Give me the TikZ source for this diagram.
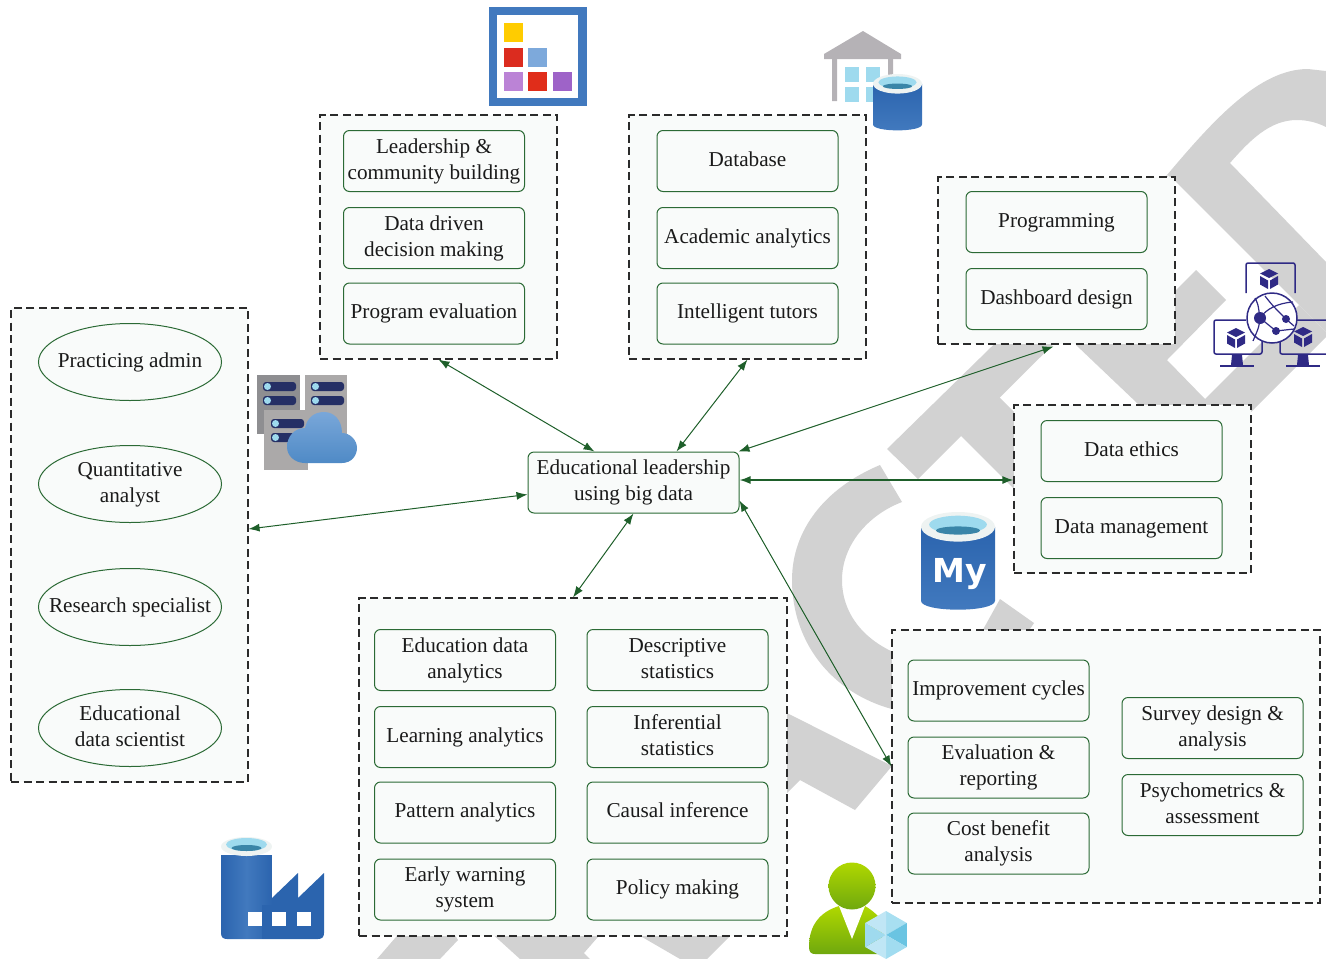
\documentclass[tikz,border=0pt]{standalone}
\usepackage{fontspec}
\setmainfont{Liberation Serif}
\newfontfamily\iconfont{DejaVu Sans}
\usetikzlibrary{arrows.meta,shapes.geometric}

\definecolor{wmgray}{HTML}{D2D2D2}
\definecolor{panelfill}{HTML}{F9FBFA}
\definecolor{panelline}{HTML}{2B2B2B}
\definecolor{boxgreen}{HTML}{2B6A35}
\definecolor{arrowgreen}{HTML}{1E5F2A}
\definecolor{textblack}{HTML}{1A1A1A}
\definecolor{azuredark}{HTML}{2B64AE}
\definecolor{azurelight}{HTML}{4179BE}
\definecolor{rimwhite}{HTML}{EEF3F2}
\definecolor{waterlight}{HTML}{9EDAEE}
\definecolor{waterdark}{HTML}{3A85A8}
\definecolor{netblue}{HTML}{2F2A85}
\definecolor{pillnavy}{HTML}{252F65}
\definecolor{leafhi}{HTML}{B0D800}
\definecolor{leaflo}{HTML}{6FA80E}
\definecolor{roofgray}{HTML}{B5B2B6}
\definecolor{rackdark}{HTML}{8E8E91}
\definecolor{racklight}{HTML}{ABA9A9}
\definecolor{cloudhi}{HTML}{79A7D9}
\definecolor{cloudlo}{HTML}{4F8AC6}

\newcommand{\linestrut}{\rule[-8pt]{0pt}{26pt}}

\tikzset{
  panel/.style={draw=panelline, fill=panelfill, line width=1.1pt, dash pattern=on 8pt off 4.5pt, inner sep=0pt},
  topic/.style={draw=boxgreen, fill=panelfill, line width=1pt, rounded corners=6pt, align=center,
    minimum width=181pt, minimum height=61pt, inner sep=0pt, text=textblack,
    font=\fontsize{21.2}{26}\selectfont,
    execute at begin node=\linestrut, execute at end node=\linestrut},
  role/.style={ellipse, draw=boxgreen, fill=panelfill, line width=1pt, align=center,
    minimum width=183pt, minimum height=77pt, inner ysep=0pt, inner xsep=-30pt, text=textblack,
    font=\fontsize{21.2}{26}\selectfont,
    execute at begin node=\linestrut, execute at end node=\linestrut},
  twolines/.style={execute at begin node=\rule{0pt}{44pt}},
  link/.style={{Latex[length=11pt,width=8pt]}-{Latex[length=11pt,width=8pt]}, draw=arrowgreen, line width=1pt},
  wm/.style={fill=wmgray},
  pill/.style={fill=pillnavy, rounded corners=3pt},
}

% left, top, width, height (height in hundredths of the width)
\newcommand{\drumicon}[4]{
  \begin{scope}[shift={(#1,#2)}, x={#3pt/100}, y={-#3pt/100}]
    \shade[top color=azuredark, bottom color=azurelight]
      (0,20) -- (0,#4-12) .. controls (0,#4-4) and (25,#4) .. (50,#4)
      .. controls (75,#4) and (100,#4-4) .. (100,#4-12) -- (100,20) -- cycle;
    \fill[rimwhite] (50,20) ellipse [x radius=50, y radius=20];
    \fill[waterlight] (50,17) ellipse [x radius=39, y radius=12];
    \fill[waterdark] (50,25) ellipse [x radius=30, y radius=5.5];
  \end{scope}
}

\begin{document}
\begin{tikzpicture}[x=1pt, y=-1pt]
\useasboundingbox (0,0) rectangle (1326,959);

% watermark
\fill[wm] (887,449) -- (1167,175) -- (1174,185) -- (1170,228) -- (918,479) -- cycle;
\fill[wm] (955,430) -- (993,391) -- (1030,428) -- (1030,505) -- cycle;
\fill[wm] (1167,175) .. controls (1215,118) and (1260,69) .. (1308,69) -- (1326,71) -- (1326,127)
  .. controls (1316,122) and (1306,120) .. (1297,120) .. controls (1270,120) and (1250,140) .. (1230,163)
  -- (1326,262) -- (1326,332) -- (1172,178) -- cycle;
\fill[wm] (1196,270) -- (1226,300) -- (1167,360) -- (1205,399) -- (1299,305) -- (1326,332) -- (1326,337)
  -- (1250,413) -- (1240,420) -- (1150,420) -- (1137,403) -- (1076,345) -- (1076,340) -- (1170,296) -- cycle;
\fill[wm] (880,465) .. controls (825,488) and (792,530) .. (792,580) .. controls (792,645) and (835,697) .. (900,711)
  -- (900,655) .. controls (862,640) and (842,612) .. (842,580) .. controls (842,545) and (868,515) .. (902,502) -- cycle;
\fill[wm] (782,711) -- (787,713) -- (892,766) -- (855,810) -- (800,780) -- (787,793) -- (782,793) -- cycle;
\fill[wm] (1000,599) -- (1034,623) -- (1026,635) -- (980,635) -- cycle;
\fill[wm] (402,930) -- (452,930) -- (458,940) -- (440,959) -- (377,959) -- cycle;
\fill[wm] (488,930) -- (604,930) -- (584,953) -- (590,959) -- (520,959) -- cycle;
\fill[wm] (630,930) -- (736,930) -- (707,959) -- (680,959) -- cycle;

% panels
\node[panel, minimum width=237pt, minimum height=244pt] (leadpanel) at (438.5,237) {};
\node[panel, minimum width=237pt, minimum height=244pt] (techpanel) at (747.5,237) {};
\node[panel, minimum width=237pt, minimum height=167pt] (progpanel) at (1056.5,260.5) {};
\node[panel, minimum width=237pt, minimum height=168pt] (ethicspanel) at (1132.5,489) {};
\node[panel, minimum width=237pt, minimum height=474pt] (rolepanel) at (129.5,545) {};
\node[panel, minimum width=428pt, minimum height=338pt] (analyticspanel) at (573,767) {};
\node[panel, minimum width=428pt, minimum height=273pt] (evalpanel) at (1106,766.5) {};

% topics
\node[topic, twolines] (leadership) at (434,161) {Leadership \&\\community building};
\node[topic, twolines] (datadriven) at (434,238) {Data driven\\decision making};
\node[topic] (progeval) at (434,313.5) {Program evaluation};
\node[topic] (database) at (747.5,161) {Database};
\node[topic] (academic) at (747.5,238) {Academic analytics};
\node[topic] (tutors) at (747.5,313.5) {Intelligent tutors};
\node[topic] (programming) at (1056.5,222) {Programming};
\node[topic] (dashboard) at (1056.5,299) {Dashboard design};
\node[topic] (ethics) at (1131.5,451) {Data ethics};
\node[topic] (management) at (1131.5,528) {Data management};
\node[topic, twolines] (eduanalytics) at (465,660) {Education data\\analytics};
\node[topic] (learning) at (465,737) {Learning analytics};
\node[topic] (pattern) at (465,812.5) {Pattern analytics};
\node[topic, twolines] (earlywarn) at (465,889.5) {Early warning\\system};
\node[topic, twolines] (descriptive) at (677.5,660) {Descriptive\\statistics};
\node[topic, twolines] (inferential) at (677.5,737) {Inferential\\statistics};
\node[topic] (causal) at (677.5,812.5) {Causal inference};
\node[topic] (policy) at (677.5,889.5) {Policy making};
\node[topic] (improvement) at (998.5,690.5) {Improvement cycles};
\node[topic, twolines] (evaluation) at (998.5,767.5) {Evaluation \&\\reporting};
\node[topic, twolines] (costbenefit) at (998.5,843.5) {Cost benefit\\analysis};
\node[topic, twolines] (survey) at (1212.5,728) {Survey design \&\\analysis};
\node[topic, twolines] (psycho) at (1212.5,805) {Psychometrics \&\\assessment};

% roles
\node[role] (admin) at (130,362) {Practicing admin};
\node[role, twolines] (quant) at (130,484) {Quantitative\\analyst};
\node[role] (research) at (130,607) {Research specialist};
\node[role, twolines] (scientist) at (130,728) {Educational\\data scientist};

\node[topic, twolines, minimum width=211pt] (hub) at (633.5,482.5) {Educational leadership\\using big data};

% links
\draw[link] (leadpanel.south) -- ([xshift=-39pt]hub.north);
\draw[link] (techpanel.south) -- ([xshift=43pt]hub.north);
\draw[link] ([xshift=-3pt,yshift=-2pt]progpanel.south) -- ([xshift=-1pt]hub.north east);
\draw[link, line width=1.6pt] ([yshift=2.5pt]hub.east) -- ([yshift=9pt]ethicspanel.west);
\draw[link] ([yshift=13pt]hub.south east) -- (evalpanel.west);
\draw[link] (hub.south) -- (analyticspanel.north);
\draw[link] ([yshift=-12pt]hub.west) -- ([yshift=16pt]rolepanel.east);

% chart icon
\fill[azurelight] (489,7) rectangle (587,106);
\fill[white] (497,15) rectangle (578,98);
\foreach \cx/\cy/\cc in {504/23/FFCC00, 504/48/DB2C1F, 528/48/7DA9DB, 504/72/BB83D6, 528/72/E02D1A, 553/72/9E63C8}{
  \definecolor{squarecol}{HTML}{\cc}
  \fill[squarecol] (\cx,\cy) rectangle ++(19,19);
}

% warehouse icon
\fill[roofgray] (863,31) -- (901,54) -- (901,59) -- (824,59) -- (824,54) -- cycle;
\fill[roofgray] (832,59) rectangle (837,101) (888,59) rectangle (893,76);
\foreach \cx/\cy/\cw in {845/67/14, 866/67/14, 845/87/14, 866/87/8}{
  \fill[waterlight] (\cx,\cy) rectangle ++(\cw,15);
}
\drumicon{873}{74}{49}{115}

% server and cloud icon
\fill[rackdark] (257,375) rectangle (300,434);
\fill[racklight] (305,375) rectangle (347,434);
\fill[racklight] (264,410) rectangle (308,470);
\foreach \cx/\cy in {263/382, 263/396, 311/382, 311/396, 271/419, 271/433}{
  \fill[pill] (\cx,\cy) rectangle ++(33,9);
  \fill[waterlight] (\cx+4.5,\cy+4.5) circle (3.5pt);
}
\shade[top color=cloudhi, bottom color=cloudlo]
  (305,463) -- (342,463) .. controls (352,463) and (357,455) .. (357,448)
  .. controls (357,440) and (350,433) .. (342,433) .. controls (342,420) and (334,412) .. (324,412)
  .. controls (314,412) and (307,418) .. (305,428) .. controls (294,428) and (287,437) .. (287,447)
  .. controls (287,456) and (295,463) .. (305,463) -- cycle;

% network icon
\begin{scope}[draw=netblue, line width=1.5pt, rounded corners=2pt]
  \draw (1246,293) -- (1246,263) -- (1295,263) -- (1295,293);
  \draw (1246,320) -- (1214,320) -- (1214,354) -- (1262,354) -- (1262,340);
  \draw (1280,342) -- (1280,354) -- (1330,354) (1297,320) -- (1330,320);
\end{scope}
\foreach \cx/\cy in {1237/366, 1303/366}{
  \fill[netblue] (\cx-5,\cy-11) -- (\cx+5,\cy-11) -- (\cx+6,\cy-1) -- (\cx-6,\cy-1) -- cycle;
  \draw[netblue, line width=1.3pt] (\cx-17,\cy) -- (\cx+17,\cy);
}
\foreach \cx/\cy in {1269/279, 1236/338, 1303/337}{
  \begin{scope}[shift={(\cx,\cy)}]
    \fill[netblue] (0,-10) -- (9,-5.5) -- (0,-1) -- (-9,-5.5) -- cycle;
    \fill[netblue] (-9,-3) -- (-1,1.5) -- (-1,10) -- (-9,5.5) -- cycle;
    \fill[netblue] (9,-3) -- (1,1.5) -- (1,10) -- (9,5.5) -- cycle;
  \end{scope}
}
\draw[netblue, line width=1.5pt, fill=white] (1272,318) circle (25pt);
\draw[netblue, line width=1.2pt] (1265,296) .. controls (1272,305) .. (1286,319) -- (1294,326)
  (1260,318) -- (1276,331) -- (1294,329)
  (1260,318) .. controls (1266,309) and (1278,303) .. (1293,302)
  (1255,298) .. controls (1258,304) .. (1260,318) .. controls (1259,327) .. (1253,341);
\fill[netblue] (1260,318) circle (6pt) (1286,319) circle (4pt) (1276,331) circle (4pt);

% mysql icon
\drumicon{921}{512}{74}{132}
\node[text=white, font=\iconfont\bfseries\fontsize{33}{33}\selectfont, inner sep=0pt] (mylabel) at (960,574) {My};

% factory icon
\shade[left color=azuredark, right color=azuredark, middle color=azurelight]
  (221,855) -- (221,933) .. controls (221,937) and (223,939) .. (227,939) -- (272,939) -- (272,855) -- cycle;
\fill[azuredark] (272,898) -- (298,873) -- (298,898) -- (324,873) -- (324,933)
  .. controls (324,937) and (322,939) .. (318,939) -- (272,939) -- cycle;
\fill[azuredark] (262,905) rectangle (272,939);
\foreach \cx in {248, 272, 297}{
  \fill[white] (\cx,912) rectangle ++(14,14);
}
\fill[rimwhite] (246.5,846.5) ellipse [x radius=25.5, y radius=9.5];
\fill[waterlight] (246.5,844.5) ellipse [x radius=20.5, y radius=6.5];
\fill[waterdark] (246.5,848) ellipse [x radius=15, y radius=3];

% person icon
\shade[top color=leafhi, bottom color=leaflo] (839,906) .. controls (820,912) and (809,925) .. (809,947)
  .. controls (809,952) and (811,954) .. (815,954) -- (880,954) -- (885,925) .. controls (878,915) and (872,910) .. (865,906) -- cycle;
\fill[white] (839,906) -- (865,906) -- (852,939) -- cycle;
\shade[top color=leafhi, bottom color=leaflo] (852,886) circle (23.5pt);
\begin{scope}[shift={(886,935)}]
  \foreach \angA/\angB/\cc in {90/30/A8DFF1, 30/-30/6AC4E2, -30/-90/A1DCF0, -90/-150/BFE6F5, -150/-210/9FDAEE, -210/-270/C0E6F5}{
    \definecolor{facecol}{HTML}{\cc}
    \fill[facecol] (0,0) -- ({24*cos(\angA)},{-24*sin(\angA)}) -- ({24*cos(\angB)},{-24*sin(\angB)}) -- cycle;
  }
\end{scope}
\end{tikzpicture}
\end{document}
